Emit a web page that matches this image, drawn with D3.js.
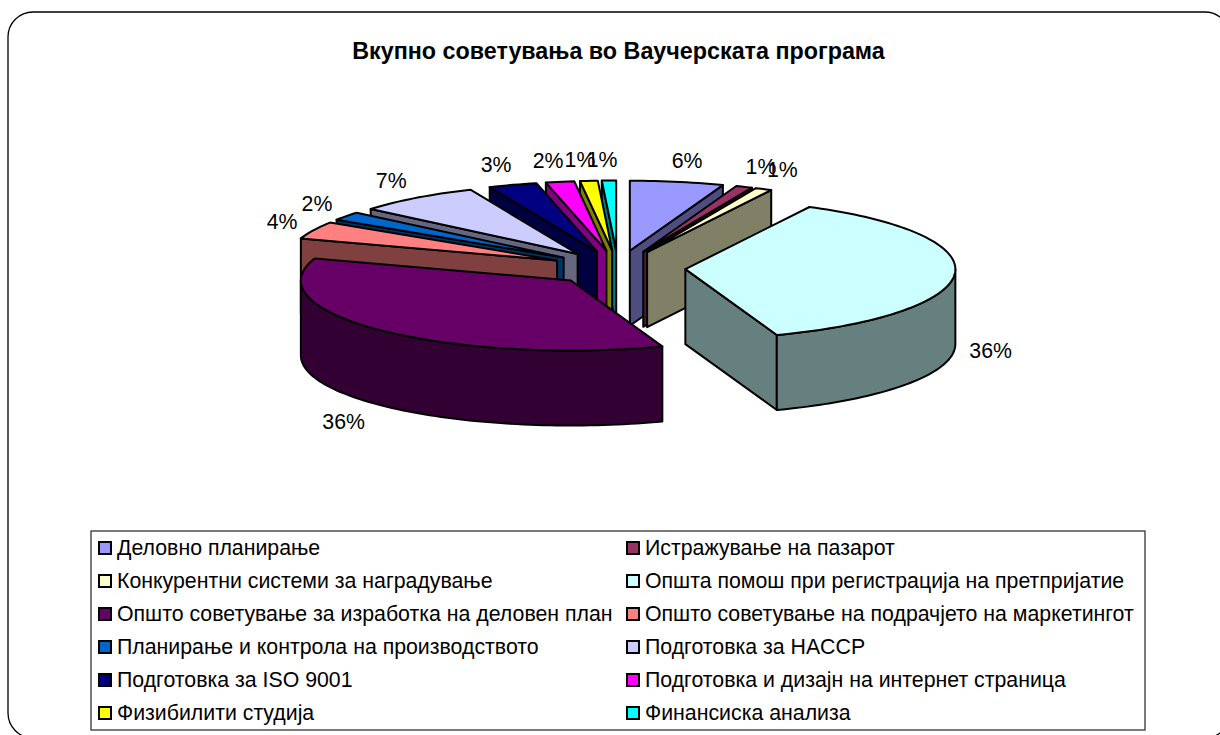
<!DOCTYPE html>
<html>
<head>
<meta charset="utf-8">
<script src="https://cdn.jsdelivr.net/npm/d3@7"></script>
<style>
    html, body { margin: 0; padding: 0; background: #fff; overflow: hidden; }
    text { font-family: "Liberation Sans", Arial, sans-serif; fill: #000; }
</style>
</head>
<body>
<div id="chart"></div>
<script>
const chartTitle = "Вкупно советувања во Ваучерската програма";
const categories = [
    "Деловно планирање",
    "Истражување на пазарот",
    "Конкурентни системи за наградување",
    "Општа помош при регистрација на претпријатие",
    "Општо советување за изработка на деловен план",
    "Општо советување на подрачјето на маркетингот",
    "Планирање и контрола на производството",
    "Подготовка за HACCP",
    "Подготовка за ISO 9001",
    "Подготовка и дизајн на интернет страница",
    "Физибилити студија",
    "Финансиска анализа"
];
// Slice sizes
const shares = [5.6, 1, 1, 36.9, 35.6, 4, 2, 7.4, 2.9, 1.7, 1.05, 0.85];
// Percentages as printed on the chart
const percentLabels = ["6%", "1%", "1%", "36%", "36%", "4%", "2%", "7%", "3%", "2%", "1%", "1%"];
const colors = ["#9999ff", "#993366", "#ffffcc", "#ccffff", "#660066", "#ff8080",
    "#0066cc", "#ccccff", "#000080", "#ff00ff", "#ffff00", "#00ffff"];

const width = 1220, height = 735;
const cx = 618, cy = 268;     // pie centre before explosion
const rx = 270, ry = 70;      // tilted ellipse
const depth = 75;
const explode = 0.25;

const svg = d3.select("#chart").append("svg")
    .attr("width", width)
    .attr("height", height)
    .style("display", "block");

// Rounded frame, the right side and the bottom run off the page
svg.append("rect")
    .attr("x", 8).attr("y", 12)
    .attr("width", 1222).attr("height", 726)
    .attr("rx", 25).attr("ry", 25)
    .attr("fill", "#fff")
    .attr("stroke", "#000")
    .attr("stroke-width", 1.3);

svg.append("text")
    .attr("x", 618.5).attr("y", 59)
    .attr("text-anchor", "middle")
    .attr("font-size", 23.3)
    .attr("font-weight", "bold")
    .text(chartTitle);

const slices = d3.pie().sort(null)(shares).map((d, i) => {
    const mid = (d.startAngle + d.endAngle) / 2;
    return {
        i,
        a0: d.startAngle,
        a1: d.endAngle,
        mid,
        ox: cx + explode * rx * Math.sin(mid),
        oy: cy - explode * ry * Math.cos(mid)
    };
});

const rimX = (s, a) => s.ox + rx * Math.sin(a);
const rimY = (s, a) => s.oy - ry * Math.cos(a);

function arcPoints(s, from, to) {
    const n = Math.max(2, Math.ceil((to - from) * 40));
    return d3.range(n + 1).map(k => {
        const a = from + (to - from) * k / n;
        return [rimX(s, a), rimY(s, a)];
    });
}

const line = d3.line();
const pieG = svg.append("g")
    .attr("stroke", "#000")
    .attr("stroke-width", 2)
    .attr("stroke-linejoin", "round");

// Back slices first so the front ones paint over them
const ordered = slices.slice().sort((a, b) => Math.cos(b.mid) - Math.cos(a.mid));

ordered.forEach(s => {
    const base = d3.rgb(colors[s.i]);
    const side = d3.rgb(base.r / 2, base.g / 2, base.b / 2).formatHex();
    const g = pieG.append("g");

    // Cut faces that look towards the viewer
    const cutFace = a => [[s.ox, s.oy], [rimX(s, a), rimY(s, a)],
        [rimX(s, a), rimY(s, a) + depth], [s.ox, s.oy + depth]];
    if (s.a0 > Math.PI) {
        g.append("path").attr("d", line(cutFace(s.a0)) + "Z").attr("fill", side);
    }
    if (s.a1 < Math.PI) {
        g.append("path").attr("d", line(cutFace(s.a1)) + "Z").attr("fill", side);
    }

    // Outer wall, only the part on the near half of the ellipse
    const from = Math.max(s.a0, Math.PI / 2), to = Math.min(s.a1, Math.PI * 1.5);
    if (to > from) {
        const top = arcPoints(s, from, to);
        const bottom = top.map(p => [p[0], p[1] + depth]).reverse();
        g.append("path").attr("d", line(top.concat(bottom)) + "Z").attr("fill", side);
    }

    // Top
    g.append("path")
        .attr("d", line([[s.ox, s.oy]].concat(arcPoints(s, s.a0, s.a1))) + "Z")
        .attr("fill", colors[s.i]);
});

// Percentage labels sit just outside the rim, back ones are pushed a bit sideways
function labelX(s) {
    const sin = Math.sin(s.mid), cos = Math.cos(s.mid);
    const sideways = cos <= 0 ? 0 : sin > 0 ? 4 : -6 * Math.min(1, 1.5 * cos * cos * cos);
    return rimX(s, s.mid) + (34 - 30 * Math.min(cos, 0)) * sin + sideways;
}

svg.append("g").selectAll("text")
    .data(slices)
    .join("text")
    .attr("x", labelX)
    .attr("y", s => rimY(s, s.mid) - 22 * Math.cos(s.mid) + (Math.cos(s.mid) < 0 ? depth : 0) + 8)
    .attr("text-anchor", "middle")
    .attr("font-size", 21.3)
    .text(s => percentLabels[s.i]);

// Legend
const legendBox = { x: 91, y: 531, w: 1054, h: 199 };
const rowScale = d3.scaleBand()
    .domain(d3.range(Math.ceil(categories.length / 2)))
    .range([legendBox.y + 0.5, legendBox.y + legendBox.h - 0.5]);
const colScale = d3.scaleOrdinal().domain([0, 1]).range([legendBox.x + 8, 627]);

svg.append("rect")
    .attr("x", legendBox.x).attr("y", legendBox.y)
    .attr("width", legendBox.w).attr("height", legendBox.h)
    .attr("fill", "#fff")
    .attr("stroke", "#333")
    .attr("stroke-width", 1.3);

const legendItems = svg.append("g").selectAll("g")
    .data(categories)
    .join("g")
    .attr("transform", (d, i) => `translate(${colScale(i % 2)},${rowScale(Math.floor(i / 2)) + rowScale.bandwidth() / 2})`);

legendItems.append("rect")
    .attr("x", 0).attr("y", -6)
    .attr("width", 12).attr("height", 12)
    .attr("fill", (d, i) => colors[i])
    .attr("stroke", "#000")
    .attr("stroke-width", 2);

legendItems.append("text")
    .attr("x", 18).attr("y", 7)
    .attr("font-size", 21.3)
    .text(d => d);
</script>
</body>
</html>
